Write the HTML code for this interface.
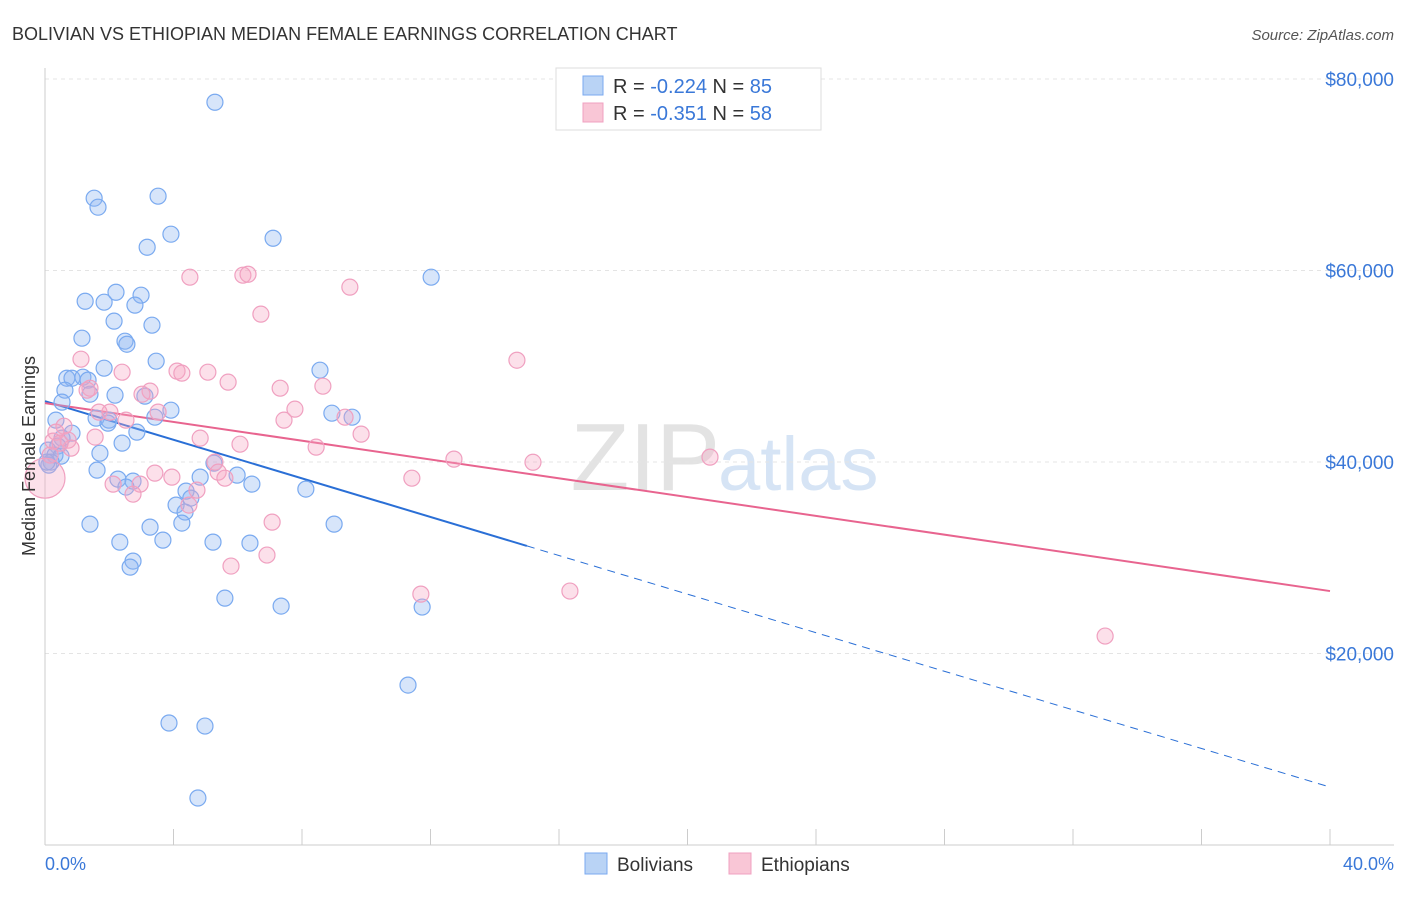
<!DOCTYPE html>
<html><head><meta charset="utf-8"><style>
body{margin:0;background:#fff;font-family:"Liberation Sans",sans-serif}
svg text{font-family:"Liberation Sans",sans-serif}
</style></head><body>
<svg id="chart" width="1406" height="892" viewBox="0 0 1406 892">
<text x="12" y="40" font-size="18" fill="#333">BOLIVIAN VS ETHIOPIAN MEDIAN FEMALE EARNINGS CORRELATION CHART</text>
<text x="1394" y="40" font-size="15" fill="#555" font-style="italic" text-anchor="end">Source: ZipAtlas.com</text>
<text x="720" y="490" font-size="96" fill="#e3e3e3" font-family="Liberation Serif" text-anchor="end">ZIP</text>
<text x="718" y="490" font-size="76" fill="#d6e4f5">atlas</text>
<g id="grid"></g>
<g id="axes"></g>
<g id="trends"></g>
<g id="pts"></g>
<text x="35" y="456" font-size="18" fill="#333" text-anchor="middle" transform="rotate(-90 35 456)">Median Female Earnings</text>
<text x="45" y="870" font-size="18" fill="#3a78d8">0.0%</text>
<text x="1394" y="870" font-size="18" fill="#3a78d8" text-anchor="end">40.0%</text>
<g>
<rect x="556" y="68" width="265" height="62" fill="#fff" stroke="#ddd"/>
<rect x="583" y="76" width="20" height="19" fill="#b9d3f5" stroke="#7aaaf0"/>
<rect x="583" y="103" width="20" height="19" fill="#f9c6d6" stroke="#f0a0c0"/>
<text x="613" y="93" font-size="20" fill="#333">R = <tspan fill="#3a78d8">-0.224</tspan>   N = <tspan fill="#3a78d8">85</tspan></text>
<text x="613" y="120" font-size="20" fill="#333">R =  <tspan fill="#3a78d8">-0.351</tspan>   N = <tspan fill="#3a78d8">58</tspan></text>
</g>
<g>
<rect x="585" y="853" width="22" height="21" fill="#b9d3f5" stroke="#7aaaf0"/>
<text x="617" y="871" font-size="19" fill="#333">Bolivians</text>
<rect x="729" y="853" width="22" height="21" fill="#f9c6d6" stroke="#f0a0c0"/>
<text x="761" y="871" font-size="19" fill="#333">Ethiopians</text>
</g>
</svg>
<script>
const yTicks=[20000,40000,60000,80000];
const yTickLabels=["$20,000","$40,000","$60,000","$80,000"];
const xTicks=[0,4,8,12,16,20,24,28,32,36,40];
const bolX=[5.29,1.53,1.65,3.52,3.92,3.18,7.10,12.02,1.25,1.84,2.21,2.99,2.80,2.15,3.33,1.15,2.49,2.55,3.46,1.84,8.56,0.68,0.84,1.18,1.34,0.62,1.40,0.53,2.18,3.11,3.92,8.93,9.56,3.42,0.34,1.59,1.99,1.96,2.86,0.84,0.53,0.40,2.40,0.09,0.31,0.50,1.71,0.19,0.12,1.62,5.26,5.98,4.83,6.44,2.27,2.74,2.52,8.12,4.39,4.54,4.08,4.36,4.26,1.40,3.27,9.00,3.67,2.33,5.23,6.38,2.74,2.65,5.60,7.35,11.74,11.30,3.86,4.98,4.76,0.06];
const bolY=[77570,67550,66610,67760,63790,62430,63370,59300,56790,56690,57730,57420,56380,54710,54290,52930,52620,52300,50530,49800,49590,48750,48750,48860,48550,47500,47080,46250,46980,46880,45410,45100,44680,44680,44370,44580,44370,44060,43120,43010,42490,41660,41970,41240,40720,40610,40920,39990,39670,39150,39880,38630,38420,37690,38210,38000,37380,37170,36960,36230,35500,34770,33620,33510,33200,33510,31840,31630,31630,31530,29650,29020,25780,24950,24850,16700,12740,12420,4910,39990];
const ethX=[1.12,4.51,6.16,6.32,9.49,6.72,14.69,4.11,4.26,5.07,2.40,1.40,3.27,3.02,5.70,7.32,8.65,1.31,7.78,2.02,3.52,2.52,7.44,1.68,9.34,9.84,0.59,0.34,0.72,4.83,6.07,8.44,1.56,12.73,15.19,20.70,0.25,0.81,5.29,5.39,5.60,11.42,3.42,3.95,2.12,2.96,2.74,4.73,4.48,7.07,6.91,5.79,11.70,16.34,33.00,0.0,0.16,0.47];
const ethY=[50740,59300,59510,59610,58260,55440,50630,49490,49280,49380,49380,47710,47400,47080,48340,47710,47920,47500,45520,45210,45210,44370,44370,45210,44680,42910,43740,43120,42280,42490,41860,41550,42600,40300,39970,40510,42180,41450,39990,38940,38310,38310,38840,38420,37690,37690,36640,37060,35500,33720,30280,29130,26200,26520,21820,38310,40720,41970];
const bolTrend=[46350,6050]; const bolSolidEnd=15.0;
const ethTrend=[46150,26520];
const NS="http://www.w3.org/2000/svg";
const xs=v=>45+v/40*1285, ys=v=>845-v/20000*191.5;
function mk(t,a,p){const e=document.createElementNS(NS,t);for(const k in a)e.setAttribute(k,a[k]);p.appendChild(e);return e;}
const grid=document.getElementById('grid'),axes=document.getElementById('axes'),tr=document.getElementById('trends'),pts=document.getElementById('pts');
yTicks.forEach((v,i)=>{
 const l=mk('line',{x1:45,x2:1394,y1:ys(v),y2:ys(v),stroke:'#e4e4e4','stroke-dasharray':'4,4'},grid);
 
 
 const t=mk('text',{x:1394,y:ys(v)+7,'font-size':19,fill:'#3a78d8','text-anchor':'end'},grid);t.textContent=yTickLabels[i];
 
 
});
const ax=mk('line',{x1:45,x2:45,y1:68,y2:845,stroke:'#ccc'},axes);


const bx=mk('line',{x1:45,x2:1394,y1:845,y2:845,stroke:'#ccc'},axes);


xTicks.forEach(v=>{const t=mk('line',{x1:xs(v),x2:xs(v),y1:829,y2:845,stroke:'#ccc'},axes);
 
 });
function dot(x,y,c,s,name){const r=(x<0.05)?20:8;const e=mk('circle',{cx:xs(x),cy:ys(y),r:r,fill:c,stroke:s,'stroke-width':1.2},pts);
 
 }
bolX.forEach((x,i)=>dot(x,bolY[i],'rgba(140,180,240,0.35)','#7aaaf0','bolivian-point'));
ethX.forEach((x,i)=>dot(x,ethY[i],'rgba(245,165,195,0.35)','#f0a0c0','ethiopian-point'));
const by=x=>bolTrend[0]+(bolTrend[1]-bolTrend[0])*x/40;
const b1=mk('line',{x1:xs(0),y1:ys(by(0)),x2:xs(bolSolidEnd),y2:ys(by(bolSolidEnd)),stroke:'#2a6fd6','stroke-width':2},tr);


const b2=mk('line',{x1:xs(bolSolidEnd),y1:ys(by(bolSolidEnd)),x2:xs(40),y2:ys(by(40)),stroke:'#2a6fd6','stroke-width':1,'stroke-dasharray':'8,6'},tr);


const e1=mk('line',{x1:xs(0),y1:ys(ethTrend[0]),x2:xs(40),y2:ys(ethTrend[1]),stroke:'#e8648f','stroke-width':2},tr);


</script>
</body></html>
